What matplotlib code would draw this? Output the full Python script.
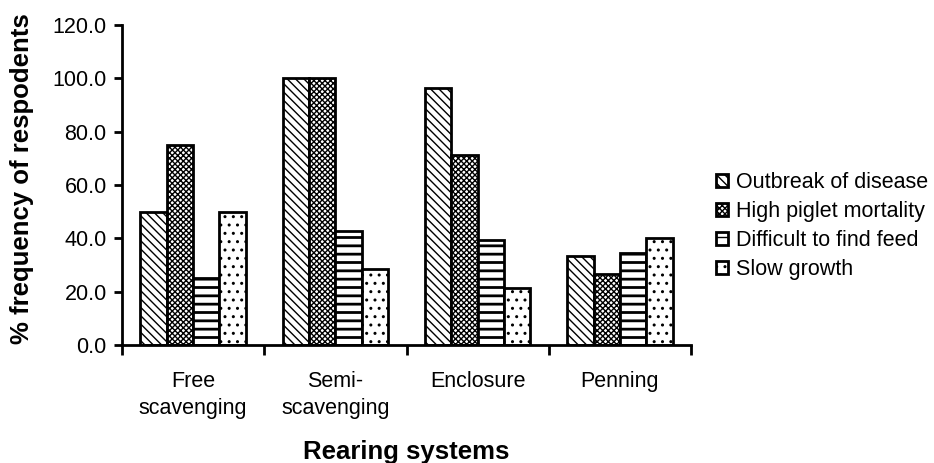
import matplotlib
matplotlib.use("Agg")
import matplotlib.pyplot as plt
import numpy as np

# datos
sistemas = ["Free\nscavenging", "Semi-\nscavenging", "Enclosure", "Penning"]
problemas = ["Outbreak of disease", "High piglet mortality",
             "Difficult to find feed", "Slow growth"]
brote = [50.0, 100.0, 96.4, 33.3]
mortalidad = [75.0, 100.0, 71.4, 26.7]
alimento = [25.0, 42.9, 39.3, 34.5]
crecimiento = [50.0, 28.6, 21.4, 40.0]
yticks = [0, 20, 40, 60, 80, 100, 120]

plt.rcParams['font.family'] = ['Liberation Sans', 'DejaVu Sans']

fig = plt.figure(figsize=(9.34, 4.63), dpi=100)
ax = fig.add_axes([122 / 934, 1 - 345 / 463, 569 / 934, 320 / 463])

x = np.arange(len(sistemas))
ancho = 0.185
series = [brote, mortalidad, alimento, crecimiento]
tramas = ['\\\\\\\\', 'xxxxxx', '--', '..']
grosores = [1.0, 1.0, 2.0, 1.0]
for i, (vals, trama, nombre) in enumerate(zip(series, tramas, problemas)):
    with plt.rc_context({'hatch.linewidth': grosores[i]}):
        ax.bar(x + (i - 1.5) * ancho, vals, ancho, color='white', edgecolor='black',
               linewidth=2, hatch=trama, label=nombre)

ax.set_xlim(-0.5, len(sistemas) - 0.5)
ax.set_ylim(0, 120)
ax.set_yticks(yticks)
ax.set_yticklabels([f"{v:.1f}" for v in yticks])

ax.set_xticks(x)
ax.set_xticklabels(sistemas, linespacing=1.35)
ax.set_xticks(np.arange(len(sistemas) + 1) - 0.5, minor=True)
ax.tick_params(axis='x', which='major', length=0, pad=19, labelsize=15.5)
ax.tick_params(axis='x', which='minor', length=7, width=2, direction='out')
ax.tick_params(axis='y', length=6, width=2, direction='out', labelsize=15.5, pad=5)

for s in ['top', 'right']:
    ax.spines[s].set_visible(False)
for s in ['left', 'bottom']:
    ax.spines[s].set_linewidth(2)

ax.set_xlabel("Rearing systems", fontsize=18.5, fontweight='bold', labelpad=15)
ax.set_ylabel("% frequency of respodents", fontsize=18.5, fontweight='bold')
ax.yaxis.set_label_coords(-0.155, 0.52)

fig.legend(loc='center left', bbox_to_anchor=(716 / 934, 1 - 226 / 463),
           frameon=False, fontsize=15.5, handlelength=0.55, handleheight=0.55,
           handletextpad=0.4, labelspacing=0.38, borderpad=0, borderaxespad=0)

fig.savefig("out.png", dpi=100)
